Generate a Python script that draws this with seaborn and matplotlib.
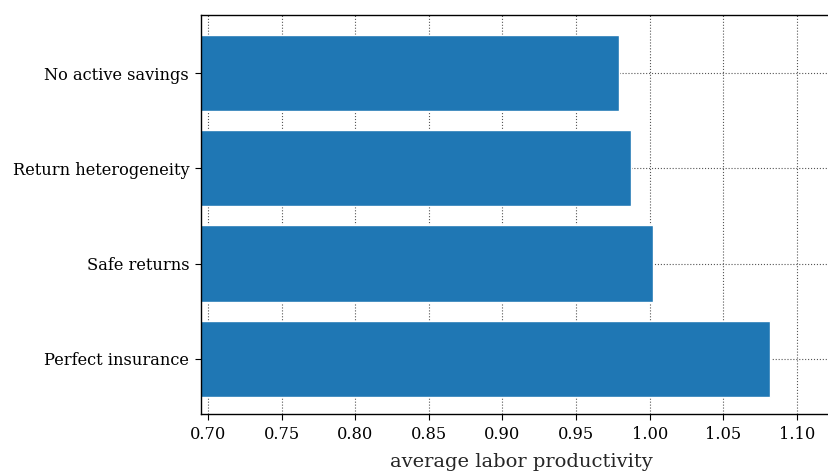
import matplotlib
matplotlib.use("Agg")
import matplotlib.pyplot as plt
import seaborn as sns
import pandas as pd

categories = ["No active savings", "Return heterogeneity", "Safe returns", "Perfect insurance"]
values = [0.979, 0.987, 1.0022, 1.0817]
xticks = [0.70, 0.75, 0.80, 0.85, 0.90, 0.95, 1.00, 1.05, 1.10]

sns.set_style("ticks")
plt.rcParams["font.family"] = ["DejaVu Serif"]

df = pd.DataFrame({"scenario": categories, "productivity": values})

fig = plt.figure(figsize=(8.29, 4.71), dpi=100)
ax = fig.add_axes([0.2425, 0.121, 0.772, 0.847])
ax.set_axisbelow(True)
sns.barplot(data=df, x="productivity", y="scenario", color="#1f77b4",
            saturation=1, width=0.8, ax=ax, orient="h")
ax.set_xlim(0.6952, 1.13)
ax.set_ylim(3.58, -0.61)
ax.set_xticks(xticks)
ax.set_xticklabels([f"{t:.2f}" for t in xticks])
ax.grid(True, linestyle=":", color="#555555", linewidth=0.8)
ax.set_xlabel("average labor productivity", fontsize=14, labelpad=7)
ax.set_ylabel("")
ax.tick_params(labelsize=11.7, colors="black", direction="out", length=4.5, pad=4)
for s in ax.spines.values():
    s.set_visible(True)
    s.set_color("black")
    s.set_linewidth(1.0)
fig.savefig("out.png", dpi=100)
